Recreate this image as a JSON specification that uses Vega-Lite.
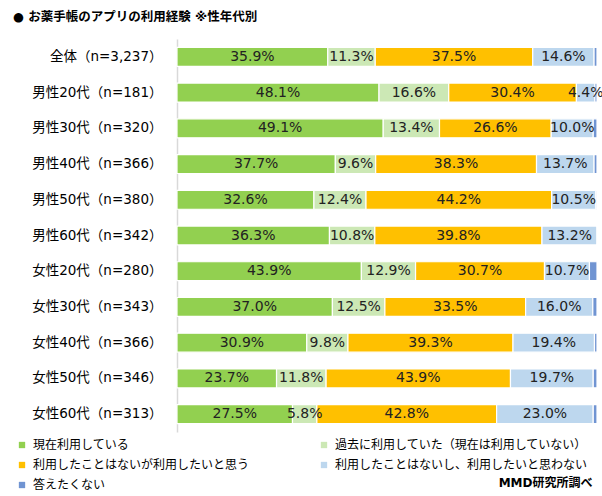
{
  "$schema": "https://vega.github.io/schema/vega-lite/v6.json",
  "width": 420,
  "height": 393,
  "autosize": {"type": "none"},
  "padding": {"left": 177, "top": 39, "right": 5, "bottom": 64},
  "title": {
    "text": "●   お薬手帳のアプリの利用経験  ※性年代別",
    "anchor": "start",
    "frame": "group",
    "dx": -164,
    "offset": 3,
    "baseline": "bottom",
    "fontSize": 12.5,
    "fontWeight": "bold",
    "color": "#000000",
    "font": "DejaVu Sans, Noto Sans CJK JP"
  },
  "config": {
    "view": {"stroke": null},
    "font": "DejaVu Sans, Noto Sans CJK JP"
  },
  "data": {
    "values": [
      {"g": "全体（n=3,237）", "k": 1, "v": 0.359},
      {"g": "全体（n=3,237）", "k": 2, "v": 0.113},
      {"g": "全体（n=3,237）", "k": 3, "v": 0.375},
      {"g": "全体（n=3,237）", "k": 4, "v": 0.146},
      {"g": "全体（n=3,237）", "k": 5, "v": 0.007},
      {"g": "男性20代（n=181）", "k": 1, "v": 0.481},
      {"g": "男性20代（n=181）", "k": 2, "v": 0.166},
      {"g": "男性20代（n=181）", "k": 3, "v": 0.304},
      {"g": "男性20代（n=181）", "k": 4, "v": 0.044},
      {"g": "男性20代（n=181）", "k": 5, "v": 0.005},
      {"g": "男性30代（n=320）", "k": 1, "v": 0.491},
      {"g": "男性30代（n=320）", "k": 2, "v": 0.134},
      {"g": "男性30代（n=320）", "k": 3, "v": 0.266},
      {"g": "男性30代（n=320）", "k": 4, "v": 0.100},
      {"g": "男性30代（n=320）", "k": 5, "v": 0.009},
      {"g": "男性40代（n=366）", "k": 1, "v": 0.377},
      {"g": "男性40代（n=366）", "k": 2, "v": 0.096},
      {"g": "男性40代（n=366）", "k": 3, "v": 0.383},
      {"g": "男性40代（n=366）", "k": 4, "v": 0.137},
      {"g": "男性40代（n=366）", "k": 5, "v": 0.007},
      {"g": "男性50代（n=380）", "k": 1, "v": 0.326},
      {"g": "男性50代（n=380）", "k": 2, "v": 0.124},
      {"g": "男性50代（n=380）", "k": 3, "v": 0.442},
      {"g": "男性50代（n=380）", "k": 4, "v": 0.105},
      {"g": "男性50代（n=380）", "k": 5, "v": 0.003},
      {"g": "男性60代（n=342）", "k": 1, "v": 0.363},
      {"g": "男性60代（n=342）", "k": 2, "v": 0.108},
      {"g": "男性60代（n=342）", "k": 3, "v": 0.398},
      {"g": "男性60代（n=342）", "k": 4, "v": 0.132},
      {"g": "男性60代（n=342）", "k": 5, "v": 0.0},
      {"g": "女性20代（n=280）", "k": 1, "v": 0.439},
      {"g": "女性20代（n=280）", "k": 2, "v": 0.129},
      {"g": "女性20代（n=280）", "k": 3, "v": 0.307},
      {"g": "女性20代（n=280）", "k": 4, "v": 0.107},
      {"g": "女性20代（n=280）", "k": 5, "v": 0.018},
      {"g": "女性30代（n=343）", "k": 1, "v": 0.370},
      {"g": "女性30代（n=343）", "k": 2, "v": 0.125},
      {"g": "女性30代（n=343）", "k": 3, "v": 0.335},
      {"g": "女性30代（n=343）", "k": 4, "v": 0.160},
      {"g": "女性30代（n=343）", "k": 5, "v": 0.010},
      {"g": "女性40代（n=366）", "k": 1, "v": 0.309},
      {"g": "女性40代（n=366）", "k": 2, "v": 0.098},
      {"g": "女性40代（n=366）", "k": 3, "v": 0.393},
      {"g": "女性40代（n=366）", "k": 4, "v": 0.194},
      {"g": "女性40代（n=366）", "k": 5, "v": 0.006},
      {"g": "女性50代（n=346）", "k": 1, "v": 0.237},
      {"g": "女性50代（n=346）", "k": 2, "v": 0.118},
      {"g": "女性50代（n=346）", "k": 3, "v": 0.439},
      {"g": "女性50代（n=346）", "k": 4, "v": 0.197},
      {"g": "女性50代（n=346）", "k": 5, "v": 0.009},
      {"g": "女性60代（n=313）", "k": 1, "v": 0.275},
      {"g": "女性60代（n=313）", "k": 2, "v": 0.058},
      {"g": "女性60代（n=313）", "k": 3, "v": 0.428},
      {"g": "女性60代（n=313）", "k": 4, "v": 0.230},
      {"g": "女性60代（n=313）", "k": 5, "v": 0.009}
    ]
  },
  "transform": [
    {"lookup": "k", "from": {"data": {"values": [
      {"k": 1, "c": "現在利用している"},
      {"k": 2, "c": "過去に利用していた（現在は利用していない）"},
      {"k": 3, "c": "利用したことはないが利用したいと思う"},
      {"k": 4, "c": "利用したことはないし、利用したいと思わない"},
      {"k": 5, "c": "答えたくない"}
    ]}, "key": "k", "fields": ["c"]}}
  ],
  "encoding": {
    "y": {
      "field": "g",
      "type": "nominal",
      "sort": null,
      "scale": {"paddingInner": 0.47, "paddingOuter": 0.235},
      "axis": {
        "title": null,
        "ticks": false,
        "domain": true,
        "domainColor": "#D9D9D9",
        "domainWidth": 1.5,
        "labelPadding": 15,
        "labelFontSize": 13.5,
        "labelColor": "#000000",
        "labelFont": "DejaVu Sans, Noto Sans CJK JP"
      }
    },
    "x": {
      "field": "v",
      "type": "quantitative",
      "stack": "zero",
      "scale": {"domain": [0, 1], "nice": false, "clamp": true},
      "axis": {
        "grid": false,
        "labels": false,
        "ticks": false,
        "domain": false,
        "title": "MMD研究所調べ",
        "titleFontSize": 12,
        "titleFontWeight": "bold",
        "titleColor": "#000000",
        "titleAnchor": null,
        "titleAlign": "right",
        "titleBaseline": "middle",
        "titleX": 415,
        "titleY": 50
      }
    },
    "order": {"field": "k", "type": "quantitative"}
  },
  "layer": [
    {
      "mark": {"type": "bar", "stroke": "#ffffff", "strokeWidth": 1.2},
      "encoding": {
        "color": {
          "field": "c",
          "type": "nominal",
          "sort": null,
          "scale": {
            "domain": ["現在利用している", "過去に利用していた（現在は利用していない）", "利用したことはないが利用したいと思う", "利用したことはないし、利用したいと思わない", "答えたくない"],
            "range": ["#92D050", "#CCE8B5", "#FFC000", "#BDD7EE", "#7094D2"]
          },
          "legend": {
            "title": null,
            "orient": "none",
            "direction": "horizontal",
            "legendX": -161,
            "legendY": 400,
            "columns": 2,
            "columnPadding": 68,
            "rowPadding": 8,
            "symbolType": "square",
            "symbolSize": 40,
            "symbolStrokeWidth": 0,
            "labelFontSize": 12,
            "labelOffset": 5,
            "labelLimit": 400,
            "labelColor": "#000000",
            "labelFont": "Noto Sans CJK JP"
          }
        }
      }
    },
    {
      "transform": [{"filter": "datum.k < 5"}],
      "mark": {"type": "text", "fontSize": 14, "color": "#222222", "baseline": "middle", "font": "DejaVu Sans"},
      "encoding": {
        "x": {"field": "v", "type": "quantitative", "stack": "zero", "bandPosition": 0.5},
        "text": {"field": "v", "type": "quantitative", "format": ".1%"}
      }
    }
  ]
}
